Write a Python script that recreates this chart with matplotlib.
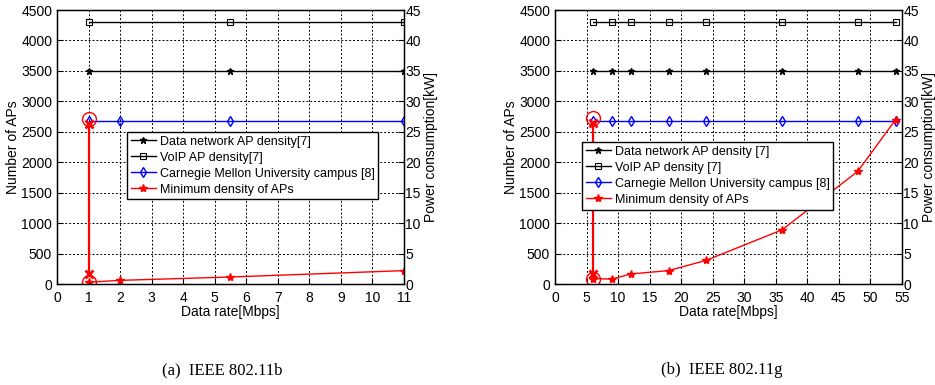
import matplotlib
matplotlib.use("Agg")
import matplotlib.pyplot as plt

plt.rcParams['font.family'] = ['Liberation Sans', 'DejaVu Sans']

# ---- data (a) IEEE 802.11b ----
b_rates_data = [1, 5.5, 11]
b_data_net = [3500, 3500, 3500]
b_rates_voip = [1, 5.5, 11]
b_voip = [4300, 4300, 4300]
b_rates_cmu = [1, 2, 5.5, 11]
b_cmu = [2680, 2680, 2680, 2680]
b_rates_min = [1, 2, 5.5, 11]
b_min = [30, 60, 115, 220]
b_arrow_x = 1
b_arrow_y = [2620, 170]
b_circle_y = [2710, 40]
b_labels = ["Data network AP density[7]", "VoIP AP density[7]",
            "Carnegie Mellon University campus [8]", "Minimum density of APs"]
b_xticks = list(range(0, 12))

# ---- data (b) IEEE 802.11g ----
g_rates = [6, 9, 12, 18, 24, 36, 48, 54]
g_data_net = [3500] * 8
g_voip = [4300] * 8
g_cmu = [2680] * 8
g_min = [90, 80, 165, 220, 390, 890, 1850, 2700]
g_arrow_x = 6
g_arrow_y = [2640, 170]
g_circle_y = [2730, 90]
g_labels = ["Data network AP density [7]", "VoIP AP density [7]",
            "Carnegie Mellon University campus [8]", "Minimum density of APs"]
g_xticks = list(range(0, 56, 5))

captions = ["(a)  IEEE 802.11b", "(b)  IEEE 802.11g"]
yticks = list(range(0, 4501, 500))
y2ticks = list(range(0, 46, 5))

fig = plt.figure(figsize=(9.35, 3.85), dpi=100)

def panel(rect, xs_data, dn, xs_voip, vo, xs_cmu, cmu, xs_min, mn,
          ax_x, ar_y, circ_y, labels, xticks, xlim, leg_anchor, ylpad):
    ax = fig.add_axes(rect)
    l1, = ax.plot(xs_data, dn, color='black', lw=1, marker='*', ms=5)
    l2, = ax.plot(xs_voip, vo, color='black', lw=1, marker='s', ms=5,
                  mfc='none', mew=0.8)
    l3, = ax.plot(xs_cmu, cmu, color='blue', lw=1, marker='d', ms=5,
                  mfc='none', mew=1)
    l4, = ax.plot(xs_min, mn, color='red', lw=1, marker='*', ms=6)
    # arrow annotation
    ax.plot([ax_x, ax_x], ar_y, color='red', lw=1.6)
    ax.plot([ax_x, ax_x], ar_y, color='red', ls='none', marker='x', ms=6, mew=2)
    ax.plot([ax_x, ax_x], circ_y, color='red', ls='none', marker='o', ms=10,
            mfc='none', mew=1)
    ax.set_xlim(*xlim)
    ax.set_ylim(0, 4500)
    ax.set_xticks(xticks)
    ax.set_yticks(yticks)
    ax.grid(True, color='black', ls=(0, (2, 2)), lw=0.7)
    ax.tick_params(direction='in', labelsize=10, length=4)
    ax.tick_params(axis='x', pad=5)
    ax.set_xlabel("Data rate[Mbps]", fontsize=10, labelpad=0)
    ax.set_ylabel("Number of APs", fontsize=10, labelpad=ylpad)
    for s in ax.spines.values():
        s.set_linewidth(1)
    ax2 = ax.twinx()
    ax2.set_ylim(0, 45)
    ax2.set_yticks(y2ticks)
    ax2.tick_params(direction='in', labelsize=10, length=4, pad=1)
    ax2.set_ylabel("Power consumption[kW]", fontsize=10, labelpad=2)
    leg = ax2.legend([l1, l2, l3, l4], labels, loc='upper left',
                     bbox_to_anchor=leg_anchor, fontsize=9, frameon=True,
                     fancybox=False, framealpha=1, edgecolor='black',
                     handlelength=2.0, handletextpad=0.3, borderpad=0.3,
                     labelspacing=0.32, borderaxespad=0)
    leg.get_frame().set_linewidth(1)
    return ax

panel([0.061, 0.2623, 0.371, 0.7117], b_rates_data, b_data_net, b_rates_voip,
      b_voip, b_rates_cmu, b_cmu, b_rates_min, b_min, b_arrow_x, b_arrow_y,
      b_circle_y, b_labels, b_xticks, (0, 11), (0.202, 0.555), 1)
panel([0.5936, 0.2623, 0.371, 0.7117], g_rates, g_data_net, g_rates, g_voip,
      g_rates, g_cmu, g_rates, g_min, g_arrow_x, g_arrow_y, g_circle_y,
      g_labels, g_xticks, (0, 55), (0.078, 0.518), 1)

fig.text(222 / 935, 1 - 370 / 385, captions[0], ha='center', va='center',
         fontsize=12, family='Liberation Serif')
fig.text(722 / 935, 1 - 370 / 385, captions[1], ha='center', va='center',
         fontsize=12, family='Liberation Serif')

fig.savefig("out.png", dpi=100)
